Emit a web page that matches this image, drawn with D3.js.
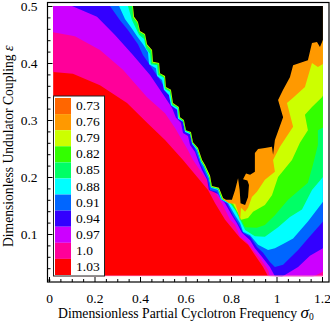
<html>
<head>
<script src="https://d3js.org/d3.v7.min.js"></script>
<style>
    body { margin: 0; background: white; }
    text { font-family: "Liberation Serif", serif; fill: black; }
    .tick text { font-size: 13.5px; font-family: "Liberation Serif", serif; }
</style>
</head>
<body>
<svg id="chart" width="330" height="323" style="display:block"></svg>
<script>
const legendLabels = ["0.73","0.76","0.79","0.82","0.85","0.88","0.91","0.94","0.97","1.0","1.03"];
const legendColors = ["#ff6600","#ff9900","#ccff00","#33ff00","#00ff66","#00ffff","#0066ff","#3300ff","#cc00ff","#ff0099","#ff0000"];

const xMajor = [0,0.2,0.4,0.6,0.8,1,1.2];
const xMinor = [0.05,0.1,0.15,0.25,0.3,0.35,0.45,0.5,0.55,0.65,0.7,0.75,0.85,0.9,0.95,1.05,1.1,1.15];
const yMajor = [0.1,0.2,0.3,0.4,0.5];
const yMinor = [0.02,0.04,0.06,0.08,0.12,0.14,0.16,0.18,0.22,0.24,0.26,0.28,0.32,0.34,0.36,0.38,0.42,0.44,0.46,0.48];

// contour lines, [sigma, epsilon], outermost first
const pinkLine = [[.018,.384],[.105,.381],[.224,.361],[.343,.330],[.431,.295],[.510,.265],[.589,.230],[.699,.177],[.730,.154],[.774,.125],[.840,.093],[.875,.081],[.905,.063],[.941,.042],[.963,.026],[1.213,.02]];
const purpleLine = [[.018,.454],[.114,.447],[.224,.423],[.325,.388],[.431,.340],[.510,.312],[.554,.286],[.611,.247],[.633,.230],[.716,.181],[.760,.154],[.796,.125],[.818,.116],[.840,.095],[.870,.086],[.897,.072],[.927,.058],[.963,.037],[.971,.026],[1.160,.025],[1.200,.033],[1.213,.037]];
const blueLine = [[.101,.5],[.211,.481],[.290,.449],[.369,.414],[.444,.379],[.510,.340],[.541,.321],[.558,.304],[.580,.295],[.589,.277],[.611,.272],[.620,.256],[.642,.244],[.659,.225],[.673,.212],[.695,.195],[.703,.177],[.743,.170],[.774,.154],[.804,.133],[.826,.119],[.848,.102],[.884,.089],[.905,.075],[.936,.060],[.971,.042],[.993,.026],[1.024,.025],[1.095,.042],[1.147,.062],[1.204,.075],[1.213,.079]];
const azureLine = [[.268,.5],[.312,.475],[.347,.458],[.391,.433],[.413,.414],[.453,.391],[.488,.370],[.510,.356],[.532,.344],[.545,.326],[.567,.318],[.576,.304],[.598,.297],[.602,.279],[.624,.277],[.633,.260],[.646,.244],[.664,.225],[.677,.214],[.699,.195],[.708,.177],[.738,.174],[.756,.160],[.782,.154],[.809,.133],[.831,.119],[.853,.102],[.884,.095],[.914,.077],[.941,.067],[.971,.051],[.993,.042],[1.029,.046],[1.095,.072],[1.147,.096],[1.213,.126]];
const cyanLine = [[.308,.5],[.334,.477],[.365,.460],[.387,.447],[.413,.433],[.435,.419],[.440,.398],[.470,.391],[.475,.377],[.497,.370],[.505,.353],[.527,.344],[.536,.326],[.563,.318],[.567,.302],[.589,.297],[.598,.279],[.620,.275],[.629,.258],[.651,.247],[.668,.226],[.681,.218],[.703,.198],[.712,.181],[.743,.177],[.756,.161],[.787,.154],[.818,.133],[.840,.119],[.853,.104],[.884,.098],[.919,.081],[.963,.072],[.993,.075],[1.037,.084],[1.073,.092],[1.138,.122],[1.213,.161]];
const springLine = [[.347,.5],[.365,.475],[.382,.461],[.396,.449],[.418,.442],[.426,.426],[.444,.416],[.448,.398],[.475,.396],[.479,.379],[.505,.374],[.510,.354],[.532,.349],[.541,.326],[.567,.321],[.571,.304],[.589,.298],[.598,.281],[.620,.277],[.629,.260],[.651,.249],[.668,.228],[.681,.219],[.703,.200],[.712,.182],[.743,.179],[.760,.161],[.796,.154],[.818,.142],[.840,.125],[.862,.107],[.905,.096],[.949,.095],[1.007,.112],[1.059,.130],[1.112,.143],[1.156,.177],[1.213,.204]];
const greenLine = [[.365,.5],[.369,.479],[.387,.470],[.396,.454],[.418,.449],[.426,.432],[.448,.421],[.453,.4],[.479,.398],[.484,.381],[.505,.375],[.510,.356],[.532,.351],[.541,.328],[.567,.323],[.571,.304],[.589,.299],[.598,.282],[.620,.278],[.629,.261],[.651,.250],[.668,.229],[.681,.220],[.703,.201],[.712,.183],[.743,.180],[.760,.162],[.800,.154],[.826,.139],[.840,.128],[.862,.112],[.914,.111],[.949,.116],[.993,.133],[1.051,.160],[1.138,.19],[1.160,.221],[1.182,.256],[1.182,.282],[1.213,.289]];
const yellowLine = [[.367,.5],[.371,.480],[.389,.471],[.398,.455],[.420,.450],[.429,.432],[.451,.422],[.455,.401],[.482,.399],[.486,.382],[.508,.376],[.512,.357],[.534,.352],[.543,.329],[.570,.322],[.574,.304],[.592,.299],[.600,.282],[.622,.278],[.631,.261],[.653,.250],[.671,.229],[.684,.220],[.706,.201],[.715,.183],[.746,.180],[.763,.162],[.809,.153],[.831,.137],[.844,.125],[.875,.128],[.897,.139],[.949,.151],[.980,.168],[1.007,.2],[1.068,.230],[1.103,.260],[1.138,.282],[1.125,.309],[1.156,.323],[1.2,.340],[1.213,.349]];
const orangeLine = [[.75,.5],[.764,.162],[.791,.154],[.818,.153],[.831,.139],[.840,.123],[.844,.146],[.862,.139],[.875,.146],[.892,.165],[.914,.174],[.949,.195],[.993,.209],[.985,.230],[1.015,.253],[1.073,.288],[1.046,.330],[1.073,.339],[1.125,.358],[1.156,.4],[1.182,.393],[1.213,.4]];
const blackLine = [[.369,.5],[.374,.481],[.391,.472],[.4,.456],[.422,.451],[.431,.433],[.453,.423],[.457,.402],[.484,.4],[.488,.382],[.510,.377],[.514,.358],[.536,.353],[.545,.330],[.571,.323],[.576,.305],[.593,.3],[.602,.282],[.624,.279],[.633,.261],[.655,.251],[.673,.230],[.686,.221],[.708,.202],[.716,.184],[.747,.181],[.765,.163],[.778,.160],[.804,.160],[.818,.177],[.831,.198],[.838,.177],[.842,.154],[.862,.151],[.875,.165],[.879,.186],[.872,.194],[.853,.196],[.866,.206],[.884,.204],[.905,.209],[.905,.242],[.919,.249],[.949,.251],[.980,.253],[.985,.239],[.993,.265],[1.029,.305],[1.007,.335],[1.029,.353],[1.059,.375],[1.073,.396],[1.138,.405],[1.156,.435],[1.178,.437],[1.191,.428],[1.213,.449]];

const bands = [
    {line: pinkLine, color: "#ff0099"},
    {line: purpleLine, color: "#cc00ff"},
    {line: blueLine, color: "#3300ff"},
    {line: azureLine, color: "#0066ff"},
    {line: cyanLine, color: "#00ffff"},
    {line: springLine, color: "#00ff66"},
    {line: greenLine, color: "#33ff00"},
    {line: yellowLine, color: "#ccff00"},
    {line: orangeLine, color: "#ff9900"},
    {line: blackLine, color: "#000000"}
];

const svg = d3.select("#chart");
const x = d3.scaleLinear().domain([0,1.2]).range([49,322]);
const y = d3.scaleLinear().domain([0,0.5]).range([291,6]);

const frame = {left: 47.5, right: 329, top: 2.5, bottom: 282};
const dataLeft = 0.018, dataRight = 1.204, dataBottom = 0.026, dataTop = 0.5;

svg.append("clipPath").attr("id","plotClip").append("rect")
    .attr("x", x(dataLeft)).attr("y", y(dataTop))
    .attr("width", x(dataRight)-x(dataLeft)).attr("height", y(dataBottom)-y(dataTop));

const plot = svg.append("g").attr("clip-path","url(#plotClip)");

plot.append("rect")
    .attr("x", x(dataLeft)).attr("y", y(dataTop))
    .attr("width", x(dataRight)-x(dataLeft)).attr("height", y(dataBottom)-y(dataTop))
    .attr("fill","#ff0000");

const line = d3.line().x(d => x(d[0])).y(d => y(d[1]));

// painter style: every level fills from its contour up to the top edge
plot.selectAll("path.band").data(bands).join("path")
    .attr("class","band")
    .attr("fill", d => d.color)
    .attr("d", d => line(d.line.concat([[1.25,0.52],[0,0.52]])) + "Z");

// thin pink row along the bottom of the data
plot.append("rect")
    .attr("x", x(dataLeft)).attr("y", y(dataBottom)-0.7)
    .attr("width", x(dataRight)-x(dataLeft)).attr("height", 0.7)
    .attr("fill","#ff70c0");

svg.append("rect")
    .attr("x", frame.left).attr("y", frame.top)
    .attr("width", frame.right-frame.left).attr("height", frame.bottom-frame.top)
    .attr("fill","none").attr("stroke","black").attr("stroke-width",1.2);

// axes, ticks point into the frame
const xAxis = svg.append("g").attr("transform","translate(0,"+frame.bottom+")");
xAxis.call(d3.axisBottom(x).tickValues(xMajor).tickSizeInner(-5).tickSizeOuter(0).tickPadding(11.5).tickFormat(d3.format("~g")));
const xAxisMinor = svg.append("g").attr("transform","translate(0,"+frame.bottom+")");
xAxisMinor.call(d3.axisBottom(x).tickValues(xMinor).tickSizeInner(-3).tickSizeOuter(0).tickFormat(""));
const yAxis = svg.append("g").attr("transform","translate("+frame.left+",0)");
yAxis.call(d3.axisLeft(y).tickValues(yMajor).tickSizeInner(-5).tickSizeOuter(0).tickPadding(10).tickFormat(d3.format("~g")));
const yAxisMinor = svg.append("g").attr("transform","translate("+frame.left+",0)");
yAxisMinor.call(d3.axisLeft(y).tickValues(yMinor).tickSizeInner(-3).tickSizeOuter(0).tickFormat(""));
svg.selectAll(".domain").remove();

// legend
const legendBox = {left: 53.5, right: 104.5, top: 96, bottom: 276};
svg.append("rect")
    .attr("x", legendBox.left).attr("y", legendBox.top)
    .attr("width", legendBox.right-legendBox.left).attr("height", legendBox.bottom-legendBox.top)
    .attr("fill","white").attr("stroke","#222").attr("stroke-width",1);

const legendY = d3.scaleBand().domain(legendLabels).range([98,275]);
const legend = svg.append("g");
legend.selectAll("rect").data(legendLabels).join("rect")
    .attr("x",55).attr("width",16)
    .attr("y", d => legendY(d)).attr("height", legendY.bandwidth())
    .attr("fill", (d,i) => legendColors[i]);
legend.selectAll("text").data(legendLabels).join("text")
    .attr("x",76)
    .attr("y", d => legendY(d)+legendY.bandwidth()-4)
    .style("font-size","13.5px")
    .text(d => d);

// axis titles
const xTitle = svg.append("text").attr("x",58).attr("y",318).style("font-size","13.7px");
xTitle.append("tspan").text("Dimensionless Partial Cyclotron Frequency ");
xTitle.append("tspan").style("font-style","italic").style("font-size","17px").text("σ");
xTitle.append("tspan").attr("dy",2).style("font-size","9.5px").text("0");

const yTitle = svg.append("text").attr("transform","translate(13,247) rotate(-90)").style("font-size","13.6px");
yTitle.append("tspan").text("Dimensionless Undulator Coupling ");
yTitle.append("tspan").style("font-style","italic").style("font-size","14px").text("ε");
</script>
</body>
</html>
